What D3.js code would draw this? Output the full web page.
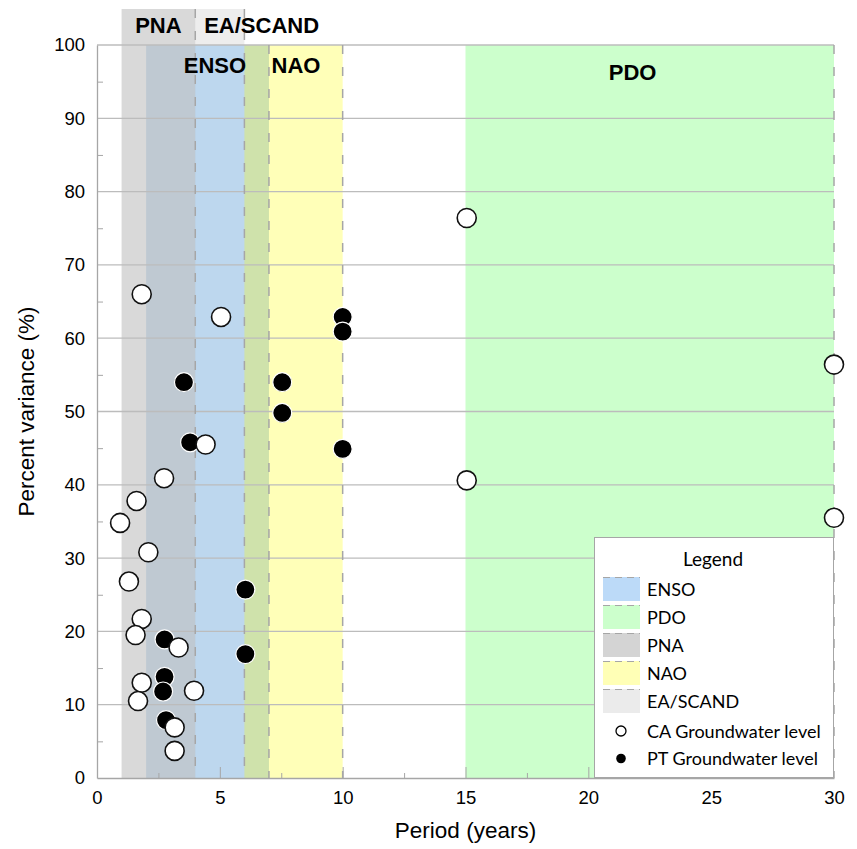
<!DOCTYPE html>
<html>
<head>
<meta charset="utf-8">
<script src="https://cdn.jsdelivr.net/npm/d3@7"></script>
<style>
  body { margin: 0; background: #fff; }
  svg text { font-family: "Liberation Sans", Arial, sans-serif; }
  .legend text { font-family: Lato, "Open Sans", sans-serif; }
</style>
</head>
<body>
<div class="plot"></div>
<script>
// climate index bands (period range, years)
let bandNames  = ["ENSO", "PDO", "PNA", "NAO", "EA/SCAND"];
let bandStart  = [2, 15, 1, 6, 4];
let bandEnd    = [7, 30, 4, 10, 6];
let bandLabelAt = [4.8, 21.8, 2.5, 8.1, 6.7];

// CA groundwater level (open circles)
let caPeriod   = [0.94, 1.3, 1.61, 1.82, 2.09, 1.82, 1.57, 1.82, 1.67, 2.73, 3.32, 3.95, 3.16, 3.16, 4.42, 5.05, 15.05, 15.05, 30, 30];
let caVariance = [34.8, 26.8, 37.8, 66.0, 30.8, 21.7, 19.5, 13.0, 10.5, 40.9, 17.8, 11.9, 6.9, 3.7, 45.5, 62.9, 76.4, 40.6, 56.4, 35.5];

// PT groundwater level (filled circles)
let ptPeriod   = [3.54, 3.79, 7.54, 7.54, 10, 10, 10, 6.04, 6.04, 2.75, 2.75, 2.69, 2.81];
let ptVariance = [54.0, 45.8, 54.0, 49.8, 62.9, 60.9, 44.9, 25.7, 16.9, 18.9, 13.8, 11.8, 7.9];

let xTicks = [0, 5, 10, 15, 20, 25, 30];
let yTicks = [0, 10, 20, 30, 40, 50, 60, 70, 80, 90, 100];

// styles per band, drawing order bottom -> top
let bandStyle = {
  "EA/SCAND": {fill: "#ededed", opacity: 1,    header: true,  order: 0, legend: "#ebebeb"},
  "ENSO":     {fill: "#bdd7ee", opacity: 1,    header: false, order: 1, legend: "#bcdaf8"},
  "NAO":      {fill: "#ffff00", opacity: 0.28, header: false, order: 2, legend: "#ffffb6"},
  "PDO":      {fill: "#ccffcc", opacity: 1,    header: false, order: 3, legend: "#ccffcc"},
  "PNA":      {fill: "#bfbfbf", opacity: 0.6,  header: true,  order: 4, legend: "#d4d4d4"}
};

let width = 857, height = 849;
let margin = {left: 97, right: 23, top: 45, bottom: 71};
let headerTop = 9;

let xScale = d3.scaleLinear().domain([0, 30]).range([margin.left, width - margin.right]);
let yScale = d3.scaleLinear().domain([0, 100]).range([height - margin.bottom, margin.top]);

let svg = d3.select(".plot").append("svg")
  .attr("width", width).attr("height", height);

let bands = bandNames.map((name, i) => ({name: name, start: bandStart[i], end: bandEnd[i], labelAt: bandLabelAt[i]}))
  .sort((a, b) => bandStyle[a.name].order - bandStyle[b.name].order);

// bands
let bandG = svg.append("g");
bands.forEach(b => {
  let st = bandStyle[b.name];
  let top = st.header ? headerTop : yScale(100);
  bandG.append("rect")
    .attr("x", xScale(b.start))
    .attr("y", top)
    .attr("width", xScale(b.end) - xScale(b.start))
    .attr("height", yScale(0) - top)
    .attr("fill", st.fill)
    .attr("fill-opacity", st.opacity);
});

// grid lines
svg.append("g").selectAll("line").data(yTicks.filter(t => t > 0)).join("line")
  .attr("x1", xScale(0)).attr("x2", xScale(30))
  .attr("y1", d => yScale(d)).attr("y2", d => yScale(d))
  .attr("stroke", "#bcbcbc").attr("stroke-width", 1.3);

// dashed right edges of the bands
let edgeG = svg.append("g");
bands.forEach(b => {
  let st = bandStyle[b.name];
  edgeG.append("line")
    .attr("x1", xScale(b.end)).attr("x2", xScale(b.end))
    .attr("y1", st.header ? headerTop : yScale(100)).attr("y2", yScale(0))
    .attr("stroke", "#a6a6a6").attr("stroke-width", 1.5)
    .attr("stroke-dasharray", "9,13");
});

// axes
let yAxis = d3.axisLeft(yScale).tickValues(yTicks).tickSize(0).tickPadding(12);
let gy = svg.append("g").attr("transform", "translate(" + margin.left + ",0)").call(yAxis);
gy.select(".domain").attr("stroke", "#a6a6a6").attr("stroke-width", 1.3);
gy.selectAll("text").attr("font-size", 18.5).attr("fill", "#000")
  .attr("font-family", "Liberation Sans, Arial, sans-serif");

let yMinor = d3.axisRight(yScale).tickValues(d3.range(5, 100, 10)).tickSize(6).tickFormat("");
let gym = svg.append("g").attr("transform", "translate(" + margin.left + ",0)").call(yMinor);
gym.select(".domain").remove();
gym.selectAll("line").attr("stroke", "#a6a6a6");

let xAxis = d3.axisBottom(xScale).tickValues(xTicks).tickSize(0).tickPadding(13);
let gx = svg.append("g").attr("transform", "translate(0," + yScale(0) + ")").call(xAxis);
gx.select(".domain").attr("stroke", "#a6a6a6").attr("stroke-width", 1.3);
gx.selectAll("text").attr("font-size", 18.5).attr("fill", "#000")
  .attr("font-family", "Liberation Sans, Arial, sans-serif");

let xMinor = d3.axisTop(xScale).tickValues(d3.range(2.5, 30, 2.5)).tickSize(0).tickFormat("");
let gxm = svg.append("g").attr("transform", "translate(0," + yScale(0) + ")").call(xMinor);
gxm.select(".domain").remove();
gxm.selectAll(".tick line")
  .attr("y2", d => (d % 5 === 0 ? -11 : -5))
  .attr("stroke", "#a6a6a6");

// axis titles
svg.append("text")
  .attr("x", (xScale(0) + xScale(30)) / 2).attr("y", 838)
  .attr("text-anchor", "middle").attr("font-size", 22.5)
  .text("Period (years)");

svg.append("text")
  .attr("transform", "translate(34," + yScale(50) + ") rotate(-90)")
  .attr("text-anchor", "middle").attr("font-size", 22.5)
  .text("Percent variance (%)");

// band labels
bands.forEach(b => {
  let st = bandStyle[b.name];
  svg.append("text")
    .attr("x", xScale(b.labelAt))
    .attr("y", st.header ? 33 : (b.name === "PDO" ? 80 : 73))
    .attr("text-anchor", "middle")
    .attr("font-weight", "bold")
    .attr("font-size", 22)
    .text(b.name);
});

// points
let pt = ptPeriod.map((p, i) => ({x: p, y: ptVariance[i]}));
let ca = caPeriod.map((p, i) => ({x: p, y: caVariance[i]}));

svg.append("g").selectAll("circle").data(pt).join("circle")
  .attr("cx", d => xScale(d.x)).attr("cy", d => yScale(d.y))
  .attr("r", 9.5).attr("fill", "#000").attr("stroke", "#fff").attr("stroke-width", 1.2);

svg.append("g").selectAll("circle").data(ca).join("circle")
  .attr("cx", d => xScale(d.x)).attr("cy", d => yScale(d.y))
  .attr("r", 9.5).attr("fill", "#fff").attr("stroke", "#111").attr("stroke-width", 1.6);

// legend
let legend = svg.append("g").attr("class", "legend");
legend.append("rect")
  .attr("x", 594.5).attr("y", 537.5).attr("width", 239).attr("height", 240)
  .attr("fill", "#fff").attr("stroke", "#a6a6a6").attr("stroke-width", 1);
legend.append("text")
  .attr("x", 713).attr("y", 566).attr("text-anchor", "middle")
  .attr("font-size", 19).text("Legend");

bandNames.forEach((name, i) => {
  let y = 577 + i * 28;
  legend.append("rect")
    .attr("x", 603).attr("y", y).attr("width", 37).attr("height", 24)
    .attr("fill", bandStyle[name].legend);
  legend.append("line")
    .attr("x1", 603).attr("x2", 640).attr("y1", y + 0.5).attr("y2", y + 0.5)
    .attr("stroke", "#a6a6a6").attr("stroke-width", 1.2).attr("stroke-dasharray", "7,5");
  legend.append("text")
    .attr("x", 647).attr("y", y + 19).attr("font-size", 18).text(name);
});

let seriesNames = ["CA Groundwater level", "PT Groundwater level"];
seriesNames.forEach((name, i) => {
  let y = 731 + i * 27.5;
  legend.append("circle")
    .attr("cx", 621).attr("cy", y).attr("r", i === 0 ? 5 : 4.8)
    .attr("fill", i === 0 ? "#fff" : "#000")
    .attr("stroke", "#000").attr("stroke-width", i === 0 ? 1.3 : 0);
  legend.append("text")
    .attr("x", 647).attr("y", y + 6.5).attr("font-size", 18).text(name);
});
</script>
</body>
</html>
